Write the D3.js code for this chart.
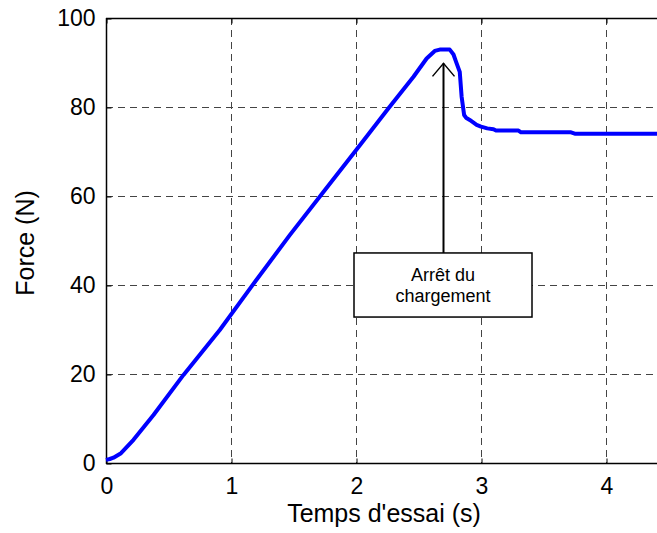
<!DOCTYPE html>
<html><head><meta charset="utf-8">
<script src="https://cdn.jsdelivr.net/npm/d3@7"></script>
<style>body{margin:0;background:#fff}svg{display:block}text{font-family:"Liberation Sans",Arial,sans-serif;fill:#000}</style>
</head><body><svg id="c" width="657" height="533"></svg>
<script>
const time = [0, 0.03, 0.06, 0.12, 0.22, 0.38, 0.62, 0.91, 1.165, 1.47, 1.75, 2.0, 2.26, 2.46, 2.565, 2.63, 2.67, 2.75, 2.78, 2.8, 2.83, 2.845, 2.865, 2.88, 2.91, 2.965, 3.0, 3.05, 3.1, 3.12, 3.3, 3.32, 3.72, 3.75, 4.5];
const force = [0.7, 0.9, 1.2, 2.2, 5.2, 10.8, 19.8, 29.9, 39.7, 51.2, 61.3, 70.3, 79.7, 86.8, 90.9, 92.6, 92.9, 92.9, 91.8, 90.2, 87.9, 82.3, 78.2, 77.6, 77.1, 76.0, 75.6, 75.2, 75.0, 74.7, 74.7, 74.3, 74.3, 74.0, 74.0];
const xTicks = [0, 1, 2, 3, 4];
const yTicks = [0, 20, 40, 60, 80, 100];
const annotationLines = ["Arrêt du", "chargement"];
const arrowAt = {t: 2.7, from: 47.2, to: 89.8};
const boxRange = {t0: 1.984, t1: 3.408, f0: 32.8, f1: 47.2};

const svg = d3.select("#c");
const L = 106, T = 18, B = 463;
const x = d3.scaleLinear().domain([0, 5]).range([L, L + 625]);
const y = d3.scaleLinear().domain([0, 100]).range([B, T]);
const W = 657;

// grid
const g = svg.append("g");
g.selectAll(".gx").data(xTicks.slice(1)).join("line")
  .attr("x1", d => x(d) + 0.5).attr("x2", d => x(d) + 0.5).attr("y1", T).attr("y2", B)
  .attr("stroke", "#444").attr("stroke-dasharray", "7,5");
g.selectAll(".gy").data(yTicks.slice(1)).join("line")
  .attr("x1", L).attr("x2", W - 4).attr("y1", d => Math.round(y(d)) + 0.5).attr("y2", d => Math.round(y(d)) + 0.5)
  .attr("stroke", "#444").attr("stroke-dasharray", "7,5");

// axes
const xAxisB = d3.axisBottom(x).tickValues(xTicks).tickSize(-5).tickPadding(14).tickFormat(d3.format("d"));
const gxB = svg.append("g").attr("transform", `translate(0.5,${B + 0.5})`).call(xAxisB);
const xAxisT = d3.axisTop(x).tickValues(xTicks).tickSize(-5).tickFormat("");
const gxT = svg.append("g").attr("transform", `translate(0.5,${T + 0.5})`).call(xAxisT);
const yAxis = d3.axisLeft(y).tickValues(yTicks).tickSize(-5).tickPadding(11).tickFormat(d3.format("d"));
const gy = svg.append("g").attr("transform", `translate(${L + 0.5},0.5)`).call(yAxis);
[gxB, gxT, gy].forEach(a => {
  a.select(".domain").remove();
  a.selectAll("line").attr("stroke", "#000");
  a.selectAll("text").style("font-size", "23px").attr("fill", "#000");
});
svg.append("line").attr("x1", L).attr("x2", W).attr("y1", B + 0.5).attr("y2", B + 0.5).attr("stroke", "#000").attr("stroke-width", 1.5);
svg.append("line").attr("x1", L).attr("x2", W).attr("y1", T + 0.5).attr("y2", T + 0.5).attr("stroke", "#000").attr("stroke-width", 1.5);
svg.append("line").attr("x1", L + 0.5).attr("x2", L + 0.5).attr("y1", T).attr("y2", B + 1).attr("stroke", "#000").attr("stroke-width", 1.5);

// curve
const data = time.map((t, i) => [t, force[i]]);
svg.append("path").datum(data)
  .attr("d", d3.line().x(d => x(d[0])).y(d => y(d[1])))
  .attr("fill", "none").attr("stroke", "#0000ff").attr("stroke-width", 4).attr("stroke-linejoin", "round");

// annotation
const ax = x(arrowAt.t);
svg.append("line").attr("x1", ax).attr("x2", ax).attr("y1", y(arrowAt.from)).attr("y2", y(arrowAt.to))
  .attr("stroke", "#000").attr("stroke-width", 2);
svg.append("path").attr("d", `M${ax - 11},${y(arrowAt.to) + 13}L${ax},${y(arrowAt.to)}L${ax + 11},${y(arrowAt.to) + 13}`)
  .attr("fill", "none").attr("stroke", "#000").attr("stroke-width", 1.5);
svg.append("rect").attr("x", x(boxRange.t0)).attr("y", y(boxRange.f1))
  .attr("width", x(boxRange.t1) - x(boxRange.t0)).attr("height", y(boxRange.f0) - y(boxRange.f1))
  .attr("fill", "#fff").attr("stroke", "#000").attr("stroke-width", 1.5);
const bc = (x(boxRange.t0) + x(boxRange.t1)) / 2;
svg.append("text").attr("x", bc).attr("y", y(boxRange.f1) + 28).attr("text-anchor", "middle").style("font-size", "18px")
  .selectAll("tspan").data(annotationLines).join("tspan").attr("x", bc).attr("dy", (d, i) => i ? 21.5 : 0).text(d => d);

// labels
svg.append("text").attr("x", 384).attr("y", 522).attr("text-anchor", "middle").style("font-size", "25px").text("Temps d'essai (s)");
svg.append("text").attr("transform", "translate(34,243) rotate(-90)").attr("text-anchor", "middle").style("font-size", "25px").text("Force (N)");
</script></body></html>
